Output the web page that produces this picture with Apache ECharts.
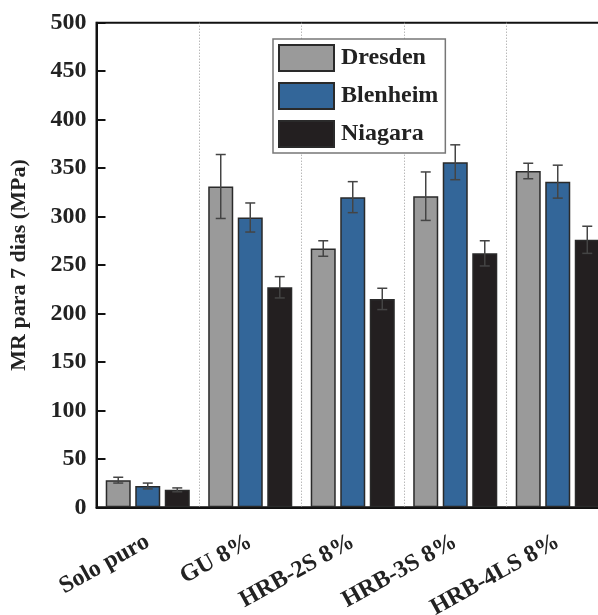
<!DOCTYPE html>
<html>
<head>
<meta charset="utf-8">
<script src="https://cdn.jsdelivr.net/npm/echarts@6/dist/echarts.min.js"></script>
<style>html,body{margin:0;padding:0;background:#fff;}#c{width:598px;height:615px;}</style>
</head>
<body>
<div id="c"></div>
<script>
var categories = ['Solo puro', 'GU 8%', 'HRB-2S 8%', 'HRB-3S 8%', 'HRB-4LS 8%'];
var seriesNames = ['Dresden', 'Blenheim', 'Niagara'];
var dresden = [28, 331, 267, 321, 347];
var blenheim = [22, 299, 320, 356, 336];
var niagara = [18, 227, 215, 262, 276];
var dresdenErr = [3, 33, 8, 25, 8];
var blenheimErr = [3, 15, 16, 18, 17];
var niagaraErr = [2, 11, 11, 13, 14];
var yTicks = [0, 50, 100, 150, 200, 250, 300, 350, 400, 450, 500];

var colors = ['#9a9a9a', '#336699', '#231f20'];
var values = [dresden, blenheim, niagara];
var errs = [dresdenErr, blenheimErr, niagaraErr];
var CAT_GAP = 0.18, BAR_GAP = 0.18;
var FONT = '"Liberation Serif", "Times New Roman", serif';

var chart = echarts.init(document.getElementById('c'));
var series = [];
seriesNames.forEach(function (name, k) {
  series.push({
    name: name,
    type: 'bar',
    data: values[k],
    barGap: (BAR_GAP * 100) + '%',
    barCategoryGap: (CAT_GAP * 100) + '%',
    itemStyle: { color: colors[k], borderColor: '#2a2a2a', borderWidth: 1.5 },
    emphasis: { disabled: true }
  });
});
seriesNames.forEach(function (name, k) {
  series.push({
    type: 'custom',
    name: name + '_err',
    silent: true,
    z: 5,
    data: values[k].map(function (v, i) { return [i, v, errs[k][i]]; }),
    renderItem: function (params, api) {
      var i = api.value(0), v = api.value(1), e = api.value(2);
      var band = api.size([1, 0])[0];
      var bw = band * (1 - CAT_GAP) / (3 + 2 * BAR_GAP);
      var off = (k - 1) * bw * (1 + BAR_GAP);
      var top = api.coord([i, v + e]);
      var bot = api.coord([i, v - e]);
      var x = top[0] + off;
      var cw = 5;
      var st = { stroke: '#444', lineWidth: 1.5 };
      return {
        type: 'group',
        children: [
          { type: 'line', shape: { x1: x, y1: top[1], x2: x, y2: bot[1] }, style: st },
          { type: 'line', shape: { x1: x - cw, y1: top[1], x2: x + cw, y2: top[1] }, style: st },
          { type: 'line', shape: { x1: x - cw, y1: bot[1], x2: x + cw, y2: bot[1] }, style: st }
        ]
      };
    }
  });
});

chart.setOption({
  animation: false,
  grid: {
    left: 96.5, top: 22.7, width: 512.5, height: 484.6,
    outerBoundsMode: 'none', containLabel: false,
    show: true, borderColor: '#111', borderWidth: 2, backgroundColor: 'transparent'
  },
  legend: {
    data: seriesNames.map(function (n) { return { name: n, icon: 'rect' }; }),
    orient: 'vertical',
    left: 273, top: 39,
    padding: [5, 7, 5, 5],
    itemWidth: 55, itemHeight: 26, itemGap: 10,
    backgroundColor: '#fff',
    borderColor: '#777', borderWidth: 1.5,
    textStyle: { fontFamily: FONT, fontWeight: 'bold', fontSize: 24, color: '#222', padding: [0, 0, 0, 2] }
  },
  xAxis: {
    type: 'category',
    data: categories,
    axisLine: { lineStyle: { color: '#111', width: 2 } },
    axisTick: { show: false },
    splitLine: { show: true, lineStyle: { color: '#999', type: [1, 2], width: 1 } },
    axisLabel: { rotate: 29, margin: 33, fontFamily: FONT, fontWeight: 'bold', fontSize: 24, color: '#222', interval: 0 }
  },
  yAxis: {
    type: 'value',
    min: 0, max: 500, interval: 50,
    name: 'MR para 7 dias (MPa)',
    nameLocation: 'middle',
    nameGap: 66,
    nameTextStyle: { fontFamily: FONT, fontWeight: 'bold', fontSize: 22, color: '#222' },
    axisLine: { show: true, lineStyle: { color: '#111', width: 2 } },
    axisTick: { show: true, inside: true, length: 9, lineStyle: { color: '#111', width: 2 } },
    splitLine: { show: false },
    axisLabel: {
      margin: 10, fontFamily: FONT, fontWeight: 'bold', fontSize: 24, color: '#222',
      formatter: function (v) { return yTicks.indexOf(v) >= 0 ? String(v) : ''; }
    }
  },
  series: series
});
</script>
</body>
</html>
